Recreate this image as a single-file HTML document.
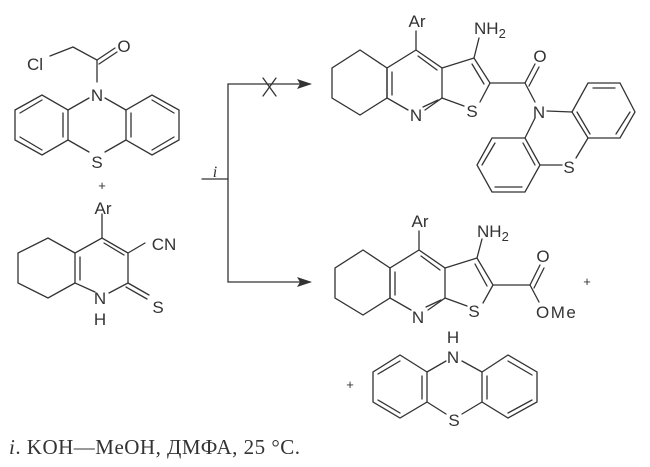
<!DOCTYPE html>
<html><head><meta charset="utf-8"><style>
html,body{margin:0;padding:0;background:#fff;}
svg{display:block;}
text{font-family:"Liberation Sans",sans-serif;font-size:17px;fill:#333;}
</style></head><body>
<svg width="650" height="467" viewBox="0 0 650 467" xmlns="http://www.w3.org/2000/svg">
<g stroke="#333" stroke-width="1.3" fill="none" stroke-linecap="round">
<polyline points="50,56 73,47 97,60 97,82"/>
<line x1="97" y1="60" x2="115" y2="48"/><line x1="99" y1="64" x2="117" y2="52"/>
<polygon points="15,110 42,95 68,110 68,140 42,155 15,140"/>
<line x1="20" y1="113" x2="42" y2="100"/><line x1="63" y1="113" x2="63" y2="137"/><line x1="20" y1="137" x2="42" y2="150"/>
<polygon points="126,110 152,95 179,110 179,140 152,155 126,140"/>
<line x1="131" y1="113" x2="131" y2="137"/><line x1="152" y1="100" x2="174" y2="113"/><line x1="152" y1="150" x2="174" y2="137"/>
<line x1="68" y1="110" x2="89" y2="98"/><line x1="126" y1="110" x2="105" y2="98"/>
<line x1="68" y1="140" x2="89" y2="152"/><line x1="126" y1="140" x2="105" y2="152"/>
<line x1="102" y1="214" x2="102" y2="238"/>
<polyline points="75,253 48,238 18,253 18,283 48,298 75,283"/>
<polyline points="95,292 75,283 75,253 102,238 128,253 128,283 109,293"/>
<line x1="80" y1="257" x2="80" y2="280"/><line x1="104" y1="243" x2="124" y2="255"/>
<line x1="128" y1="253" x2="145" y2="243"/>
<line x1="128" y1="283" x2="149" y2="295"/><line x1="126" y1="287" x2="147" y2="299"/>
<polyline points="310,84 228,84 228,282 310,282"/>
<line x1="202" y1="179" x2="228" y2="179"/>
<line x1="263" y1="78" x2="276" y2="96"/><line x1="276" y1="78" x2="263" y2="96"/>
</g>
<g fill="#333"><polygon points="312,84 297,79 300,84 297,89"/><polygon points="312,282 297,277 300,282 297,287"/></g>

<g stroke="#333" stroke-width="1.3" fill="none" stroke-linecap="round">
<polygon points="360,50 387,68 387,98 360,115 332,98 332,68"/>
<polyline points="408,110 387,98 387,68 416,50 442,68 442,98 425,110"/>
<line x1="392" y1="72" x2="392" y2="95"/><line x1="418" y1="56" x2="437" y2="70"/><line x1="438" y1="100" x2="423" y2="107"/>
<line x1="416" y1="31" x2="416" y2="50"/>
<polyline points="442,68 474,58 490,83 480,102"/><line x1="442" y1="98" x2="464" y2="106"/>
<line x1="472" y1="64" x2="484" y2="84"/>
<line x1="474" y1="58" x2="479" y2="38"/>
<line x1="490" y1="83" x2="525" y2="83"/>
<line x1="525" y1="83" x2="535" y2="64"/><line x1="529" y1="86" x2="539" y2="67"/>
<line x1="525" y1="83" x2="535" y2="102"/>
<polygon points="572,112 588,83 620,83 635,112 620,138 588,138"/>
<line x1="593" y1="88" x2="615" y2="88"/><line x1="630" y1="112" x2="616" y2="134"/><line x1="577" y1="112" x2="590" y2="134"/>
<line x1="547" y1="111" x2="572" y2="112"/>
<polygon points="525,138 492,138 477,165 492,192 525,192 540,165"/>
<line x1="495" y1="143" x2="482" y2="165"/><line x1="495" y1="187" x2="522" y2="187"/><line x1="535" y1="165" x2="523" y2="143"/>
<line x1="535" y1="118" x2="525" y2="138"/>
<line x1="588" y1="138" x2="576" y2="158"/><line x1="540" y1="165" x2="562" y2="165"/>
</g>

<g stroke="#333" stroke-width="1.3" fill="none" stroke-linecap="round">
<polygon points="363,250 390,268 390,298 363,315 335,298 335,268"/>
<polyline points="411,310 390,298 390,268 419,250 445,268 445,298 428,310"/>
<line x1="395" y1="272" x2="395" y2="295"/><line x1="421" y1="256" x2="440" y2="270"/><line x1="441" y1="300" x2="426" y2="307"/>
<line x1="419" y1="231" x2="419" y2="250"/>
<polyline points="445,268 477,258 493,285 483,303"/><line x1="445" y1="298" x2="467" y2="306"/>
<line x1="475" y1="264" x2="487" y2="286"/>
<line x1="477" y1="258" x2="482" y2="239"/>
<line x1="493" y1="285" x2="530" y2="285"/>
<line x1="530" y1="285" x2="540" y2="265"/><line x1="534" y1="288" x2="544" y2="268"/>
<line x1="530" y1="285" x2="539" y2="302"/>
<polygon points="427,372 400,355 373,372 373,402 400,418 427,402"/>
<line x1="400" y1="361" x2="378" y2="374"/><line x1="378" y1="400" x2="400" y2="413"/><line x1="422" y1="376" x2="422" y2="399"/>
<polygon points="482,372 508,355 537,372 537,402 508,418 482,402"/>
<line x1="508" y1="361" x2="532" y2="375"/><line x1="532" y1="400" x2="508" y2="413"/><line x1="487" y1="376" x2="487" y2="399"/>
<line x1="427" y1="372" x2="446" y2="361"/><line x1="482" y1="372" x2="462" y2="361"/>
<line x1="427" y1="402" x2="446" y2="414"/><line x1="482" y1="402" x2="462" y2="414"/>
</g>

<text x="35" y="70" text-anchor="middle">Cl</text>
<text x="124" y="52" text-anchor="middle">O</text>
<text x="97" y="101" text-anchor="middle">N</text>
<text x="97" y="168" text-anchor="middle">S</text>
<text x="102" y="190" text-anchor="middle" style="font-size:13px">+</text>
<text x="103" y="214" text-anchor="middle">Ar</text>
<text x="164" y="250" text-anchor="middle">CN</text>
<text x="100" y="304" text-anchor="middle">N</text>
<text x="100" y="325" text-anchor="middle">H</text>
<text x="158" y="313" text-anchor="middle">S</text>
<text x="215" y="177" text-anchor="middle" style="font-family:'Liberation Serif',serif;font-style:italic;font-size:16px">i</text>

<text x="417" y="27" text-anchor="middle">Ar</text>
<text x="474" y="34">NH<tspan dy="4" style="font-size:13px">2</tspan></text>
<text x="540" y="62" text-anchor="middle">O</text>
<text x="416" y="121" text-anchor="middle">N</text>
<text x="472" y="117" text-anchor="middle">S</text>
<text x="539" y="118" text-anchor="middle">N</text>
<text x="569" y="173" text-anchor="middle">S</text>

<text x="420" y="227" text-anchor="middle">Ar</text>
<text x="477" y="237">NH<tspan dy="4" style="font-size:13px">2</tspan></text>
<text x="543" y="262" text-anchor="middle">O</text>
<text x="418" y="323" text-anchor="middle">N</text>
<text x="474" y="317" text-anchor="middle">S</text>
<text x="536" y="318" letter-spacing="1.5">OMe</text>
<text x="587" y="286" text-anchor="middle" style="font-size:13px">+</text>
<text x="453" y="343" text-anchor="middle">H</text>
<text x="453" y="363" text-anchor="middle">N</text>
<text x="454" y="426" text-anchor="middle">S</text>
<text x="350" y="389" text-anchor="middle" style="font-size:13px">+</text>

<text x="9" y="454" textLength="291" lengthAdjust="spacing" style="font-family:'Liberation Serif',serif;font-size:21px"><tspan font-style="italic">i</tspan>. KOH—MeOH, ДМФА, 25 °C.</text>
</svg>
</body></html>
